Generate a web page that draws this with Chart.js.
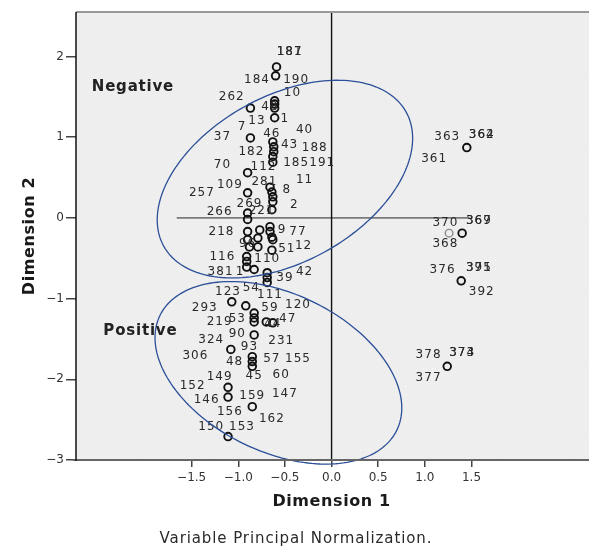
<!DOCTYPE html>
<html lang="en">
<head>
<meta charset="UTF-8">
<title>Variable Principal Normalization</title>
<script src="https://cdn.jsdelivr.net/npm/chart.js"></script>
<style>
    html, body { margin: 0; padding: 0; background: #fff; }
    canvas { display: block; }
</style>
</head>
<body>
<canvas id="plot" width="589" height="546"></canvas>
<script>
    // object points, Dimension 1 / Dimension 2
    const dim1 = [-0.59, -0.60, -0.61, -0.61, -0.61, -0.87, -0.61, -0.87, -0.63, -0.62, -0.62, -0.63, -0.63,
                  -0.90, -0.90, -0.66, -0.64, -0.63, -0.63, -0.64, -0.90, -0.90,
                  -0.90, -0.77, -0.66, -0.66, -0.64, -0.63, -0.90, -0.79, -0.88, -0.79, -0.64,
                  -0.91, -0.91, -0.91, -0.83, -0.69, -0.69, -0.69,
                  -1.07, -0.92, -0.83, -0.83, -0.83, -0.70, -0.63, -0.83, -1.08, -0.85, -0.85, -0.85,
                  -1.11, -1.11, -0.85, -1.11,
                  1.45, 1.40, 1.39, 1.24];
    const dim2 = [1.87, 1.76, 1.45, 1.41, 1.36, 1.36, 1.24, 0.99, 0.94, 0.88, 0.82, 0.76, 0.69,
                  0.56, 0.31, 0.38, 0.32, 0.26, 0.20, 0.10, 0.06, -0.02,
                  -0.17, -0.15, -0.11, -0.17, -0.24, -0.27, -0.27, -0.25, -0.36, -0.36, -0.40,
                  -0.48, -0.54, -0.61, -0.64, -0.68, -0.74, -0.80,
                  -1.04, -1.09, -1.18, -1.24, -1.29, -1.29, -1.30, -1.45, -1.63, -1.72, -1.78, -1.84,
                  -2.10, -2.22, -2.34, -2.71,
                  0.87, -0.19, -0.78, -1.84];
    // the one lighter point
    const fadedDim1 = [1.26];
    const fadedDim2 = [-0.19];

    // point labels and where the text sits
    const labelText = ['187', '181', '184', '190', '10', '262', '48', '7', '13', '1', '37', '46', '40', '43', '188',
                       '182', '70', '112', '185', '191', '109', '257', '281', '8', '11', '2', '269', '266', '221',
                       '218', '9', '77', '96', '51', '12', '116', '110', '381', '1', '39', '42',
                       '123', '54', '111', '293', '59', '120', '219', '53', '44', '47', '90', '324', '231', '93',
                       '306', '48', '57', '155', '149', '45', '60', '152', '146', '159', '147', '156', '162',
                       '150', '153',
                       '363', '364', '362', '361', '370', '369', '367', '368', '376', '391', '375', '392',
                       '378', '374', '373', '377'];
    const labelDim1 = [-0.45, -0.45, -0.80, -0.38, -0.42, -1.07, -0.66, -0.96, -0.80, -0.50, -1.17, -0.64, -0.29, -0.45, -0.18,
                       -0.86, -1.17, -0.73, -0.38, -0.10, -1.09, -1.39, -0.72, -0.48, -0.29, -0.40, -0.88, -1.20, -0.75,
                       -1.18, -0.53, -0.36, -0.90, -0.48, -0.30, -1.17, -0.69, -1.19, -0.98, -0.50, -0.29,
                       -1.11, -0.86, -0.66, -1.36, -0.66, -0.36, -1.20, -1.01, -0.63, -0.47, -1.01, -1.29, -0.54, -0.88,
                       -1.46, -1.04, -0.64, -0.36, -1.20, -0.83, -0.54, -1.49, -1.34, -0.85, -0.50, -1.09, -0.64,
                       -1.29, -0.96,
                       1.24, 1.61, 1.61, 1.10, 1.22, 1.58, 1.58, 1.22, 1.19, 1.58, 1.58, 1.61,
                       1.04, 1.40, 1.40, 1.04];
    const labelDim2 = [2.05, 2.05, 1.71, 1.71, 1.55, 1.50, 1.37, 1.13, 1.20, 1.23, 1.00, 1.04, 1.09, 0.90, 0.87,
                       0.82, 0.66, 0.63, 0.68, 0.68, 0.41, 0.31, 0.45, 0.35, 0.47, 0.16, 0.17, 0.07, 0.09,
                       -0.17, -0.15, -0.17, -0.32, -0.38, -0.35, -0.48, -0.51, -0.67, -0.67, -0.74, -0.67,
                       -0.92, -0.87, -0.95, -1.11, -1.11, -1.08, -1.29, -1.25, -1.31, -1.25, -1.44, -1.51, -1.53, -1.60,
                       -1.71, -1.78, -1.75, -1.75, -1.97, -1.96, -1.94, -2.08, -2.26, -2.20, -2.18, -2.40, -2.49,
                       -2.59, -2.59,
                       1.00, 1.03, 1.03, 0.73, -0.06, -0.04, -0.04, -0.32, -0.64, -0.62, -0.62, -0.92,
                       -1.70, -1.67, -1.67, -1.98];

    // group names and the ellipses drawn round them
    const groupNames = ['Negative', 'Positive'];
    const groupDim1 = [-2.13, -2.05];
    const groupDim2 = [1.62, -1.40];
    const ellipseCenter = [[-0.50, 0.48], [-0.57, -1.92]];
    const ellipseAxisU = [[1.30, 0.83], [1.27, -0.71]];
    const ellipseAxisV = [[0.43, -0.90], [-0.37, -0.88]];

    // reference line at Dimension 2 = 0 only spans part of the plot
    const zeroLineFrom = -1.66;
    const zeroLineTo = 1.48;

    const xTicks = [-1.5, -1.0, -0.5, 0.0, 0.5, 1.0, 1.5];
    const yTicks = [2, 1, 0, -1, -2, -3];

    const FONT = "'DejaVu Sans', Verdana, sans-serif";

    function fmt(v, digits) {
        return (v < 0 ? '\u2212' : '') + Math.abs(v).toFixed(digits);
    }

    const decorations = {
        id: 'decorations',
        beforeDraw(chart) {
            const { ctx, chartArea: a } = chart;
            ctx.save();
            ctx.fillStyle = '#eeeeee';
            ctx.fillRect(a.left, a.top, a.right - a.left, a.bottom - a.top);
            // faint dotted texture of the plot background
            ctx.fillStyle = 'rgba(255,255,255,0.7)';
            for (let py = a.top + 5; py < a.bottom; py += 9) {
                for (let px = a.left + 5; px < a.right; px += 9) {
                    ctx.fillRect(px, py, 1, 1);
                }
            }
            ctx.restore();
        },
        beforeDatasetsDraw(chart) {
            const { ctx, chartArea: a, scales: { x, y } } = chart;
            ctx.save();
            // horizontal zero line
            ctx.strokeStyle = '#7a7a7a';
            ctx.lineWidth = 1.6;
            ctx.beginPath();
            ctx.moveTo(x.getPixelForValue(zeroLineFrom), y.getPixelForValue(0));
            ctx.lineTo(x.getPixelForValue(zeroLineTo), y.getPixelForValue(0));
            ctx.stroke();
            // vertical zero line
            ctx.strokeStyle = '#111';
            ctx.lineWidth = 1.4;
            ctx.beginPath();
            ctx.moveTo(x.getPixelForValue(0), a.top);
            ctx.lineTo(x.getPixelForValue(0), a.bottom);
            ctx.stroke();
            ctx.restore();
        },
        afterDatasetsDraw(chart) {
            const { ctx, chartArea: a, scales: { x, y } } = chart;
            ctx.save();

            // point labels
            ctx.font = '12px ' + FONT;
            ctx.letterSpacing = '1px';
            ctx.fillStyle = '#2a2a2a';
            ctx.textAlign = 'center';
            ctx.textBaseline = 'middle';
            labelText.forEach((t, i) => {
                ctx.fillText(t, x.getPixelForValue(labelDim1[i]), y.getPixelForValue(labelDim2[i]));
            });

            // group ellipses
            ctx.strokeStyle = '#2b4f98';
            ctx.lineWidth = 1.3;
            ellipseCenter.forEach((c, k) => {
                const u = ellipseAxisU[k], v = ellipseAxisV[k];
                ctx.beginPath();
                for (let s = 0; s <= 180; s++) {
                    const t = s / 180 * Math.PI * 2;
                    const px = x.getPixelForValue(c[0] + u[0] * Math.cos(t) + v[0] * Math.sin(t));
                    const py = y.getPixelForValue(c[1] + u[1] * Math.cos(t) + v[1] * Math.sin(t));
                    if (s === 0) ctx.moveTo(px, py); else ctx.lineTo(px, py);
                }
                ctx.closePath();
                ctx.stroke();
            });

            // group names
            ctx.font = 'bold 15px ' + FONT;
            ctx.letterSpacing = '0.8px';
            ctx.fillStyle = '#222';
            groupNames.forEach((n, i) => {
                ctx.fillText(n, x.getPixelForValue(groupDim1[i]), y.getPixelForValue(groupDim2[i]));
            });

            // frame
            ctx.letterSpacing = '0px';
            ctx.strokeStyle = '#999';
            ctx.lineWidth = 2;
            ctx.beginPath();
            ctx.moveTo(a.left, a.top);
            ctx.lineTo(a.right, a.top);
            ctx.stroke();
            ctx.strokeStyle = '#666';
            ctx.beginPath();
            ctx.moveTo(a.left - 3, a.bottom);
            ctx.lineTo(a.right, a.bottom);
            ctx.stroke();
            ctx.strokeStyle = '#111';
            ctx.lineWidth = 1.5;
            ctx.beginPath();
            ctx.moveTo(a.left, a.top);
            ctx.lineTo(a.left, a.bottom + 1);
            ctx.stroke();
            ctx.restore();
        },
        afterDraw(chart) {
            const { ctx, chartArea: a } = chart;
            ctx.save();
            ctx.fillStyle = '#1a1a1a';
            ctx.textAlign = 'center';
            ctx.textBaseline = 'middle';
            ctx.font = 'bold 16px ' + FONT;
            ctx.letterSpacing = '0.6px';
            ctx.fillText('Dimension 1', chart.scales.x.getPixelForValue(0), 502);
            ctx.save();
            ctx.translate(30, (a.top + a.bottom) / 2);
            ctx.rotate(-Math.PI / 2);
            ctx.fillText('Dimension 2', 0, 0);
            ctx.restore();
            ctx.font = '15px ' + FONT;
            ctx.letterSpacing = '0.9px';
            ctx.fillStyle = '#2a2a2a';
            ctx.fillText('Variable Principal Normalization.', 296, 539);
            ctx.restore();
        }
    };

    const points = dim1.map((v, i) => ({ x: v, y: dim2[i] }));
    const faded = fadedDim1.map((v, i) => ({ x: v, y: fadedDim2[i] }));

    new Chart(document.getElementById('plot'), {
        type: 'scatter',
        data: {
            datasets: [
                {
                    label: 'Objects',
                    data: points,
                    pointStyle: 'circle',
                    pointRadius: 3.8,
                    pointBorderWidth: 1.9,
                    borderColor: '#111',
                    backgroundColor: 'rgba(0,0,0,0)'
                },
                {
                    label: 'Faded',
                    data: faded,
                    pointStyle: 'circle',
                    pointRadius: 3.8,
                    pointBorderWidth: 1.4,
                    borderColor: '#8a8a8a',
                    backgroundColor: 'rgba(0,0,0,0)'
                }
            ]
        },
        options: {
            responsive: false,
            animation: false,
            devicePixelRatio: 1,
            layout: { autoPadding: false, padding: { top: 12, right: 0, bottom: 0, left: 0 } },
            plugins: {
                legend: { display: false },
                tooltip: { enabled: false }
            },
            scales: {
                x: {
                    type: 'linear',
                    min: -2.74,
                    max: 2.76,
                    afterBuildTicks: s => { s.ticks = xTicks.map(v => ({ value: v })); },
                    afterFit: s => { s.height = 86; s.paddingLeft = 0; s.paddingRight = 0; },
                    border: { display: false },
                    grid: { drawOnChartArea: false, drawTicks: true, tickLength: 7, color: '#444', lineWidth: 1.5 },
                    ticks: {
                        color: '#333',
                        font: { family: FONT, size: 12 },
                        padding: 4,
                        maxRotation: 0,
                        autoSkip: false,
                        callback: v => fmt(v, 1)
                    }
                },
                y: {
                    type: 'linear',
                    min: -3,
                    max: 2.55,
                    afterBuildTicks: s => { s.ticks = yTicks.map(v => ({ value: v })); },
                    afterFit: s => { s.width = 76; s.paddingTop = 0; s.paddingBottom = 0; },
                    border: { display: false },
                    grid: { drawOnChartArea: false, drawTicks: true, tickLength: 10, color: '#444', lineWidth: 1.5 },
                    ticks: {
                        color: '#333',
                        font: { family: FONT, size: 12 },
                        padding: 2,
                        autoSkip: false,
                        callback: v => fmt(v, 0)
                    }
                }
            }
        },
        plugins: [decorations]
    });
</script>
</body>
</html>
